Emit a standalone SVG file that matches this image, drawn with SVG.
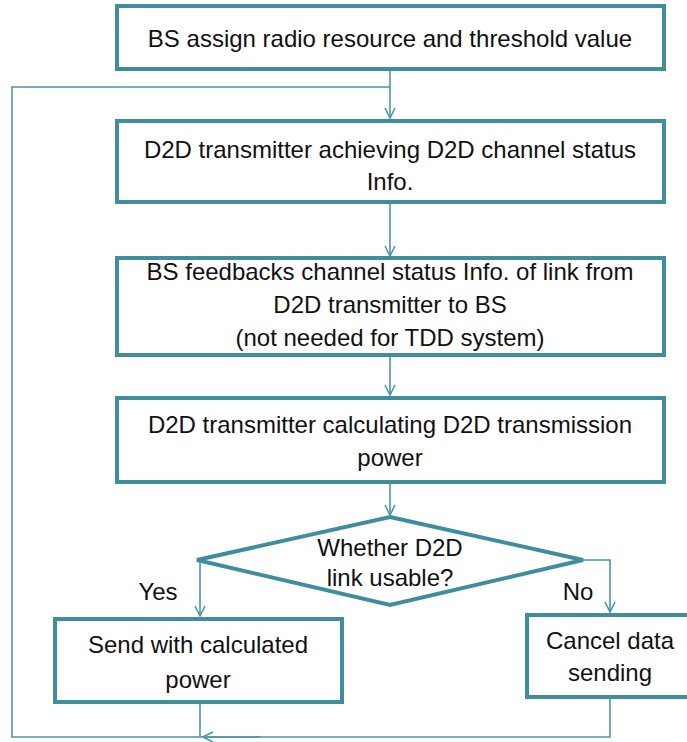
<svg xmlns="http://www.w3.org/2000/svg" width="687" height="742" viewBox="0 0 687 742">
<defs>
<style>
.box{fill:#fff;stroke:#3f8d9d;stroke-width:4}
.con{fill:none;stroke:#4a97a8;stroke-width:1.6}
text{font-family:"Liberation Sans",Arial,sans-serif;font-size:24px;fill:#111;text-anchor:middle}
</style>
<marker id="ah" viewBox="0 0 12 12" refX="11" refY="6" markerWidth="12" markerHeight="12" markerUnits="userSpaceOnUse" orient="auto">
<path d="M1,1 L11,6 L1,11" fill="none" stroke="#4a97a8" stroke-width="1.6"/>
</marker>
</defs>
<rect width="687" height="742" fill="#fff"/>
<g id="connectors">
<path class="con" d="M390,70 V118" marker-end="url(#ah)"/>
<path class="con" d="M390,87 H12 V737 H610 V697"/>
<path class="con" d="M390,202 V256" marker-end="url(#ah)"/>
<path class="con" d="M390,355 V395" marker-end="url(#ah)"/>
<path class="con" d="M390,482 V515" marker-end="url(#ah)"/>
<path class="con" d="M197,560 H200 V616" marker-end="url(#ah)"/>
<path class="con" d="M583,560 H610 V612" marker-end="url(#ah)"/>
<path class="con" d="M200,703 V737"/>
<path class="con" d="M260,737 H203" marker-end="url(#ah)"/>
</g>
<g id="n1">
<rect class="box" x="117" y="6" width="547" height="63"/>
<text x="390" y="47">BS assign radio resource and threshold value</text>
</g>
<g id="n2">
<rect class="box" x="117" y="121" width="547" height="81"/>
<text x="390" y="158">D2D transmitter achieving D2D channel status</text>
<text x="390" y="190">Info.</text>
</g>
<g id="n3">
<rect class="box" x="117" y="258" width="547" height="97"/>
<text x="390" y="280">BS feedbacks channel status Info. of link from</text>
<text x="390" y="313">D2D transmitter to BS</text>
<text x="390" y="346">(not needed for TDD system)</text>
</g>
<g id="n4">
<rect class="box" x="117" y="398" width="547" height="84"/>
<text x="390" y="433">D2D transmitter calculating D2D transmission</text>
<text x="390" y="466">power</text>
</g>
<g id="n5">
<polygon class="box" points="390,517 583,560 390,605 197,560"/>
<text x="390" y="556">Whether D2D</text>
<text x="390" y="586">link usable?</text>
</g>
<g id="n6">
<rect class="box" x="55" y="619" width="287" height="83"/>
<text x="198" y="653">Send with calculated</text>
<text x="198" y="688">power</text>
</g>
<g id="n7">
<rect class="box" x="527" y="615" width="164" height="82"/>
<text x="610" y="649">Cancel data</text>
<text x="610" y="681">sending</text>
</g>
<g id="labels">
<text x="158" y="600">Yes</text>
<text x="578" y="600">No</text>
</g>
</svg>
